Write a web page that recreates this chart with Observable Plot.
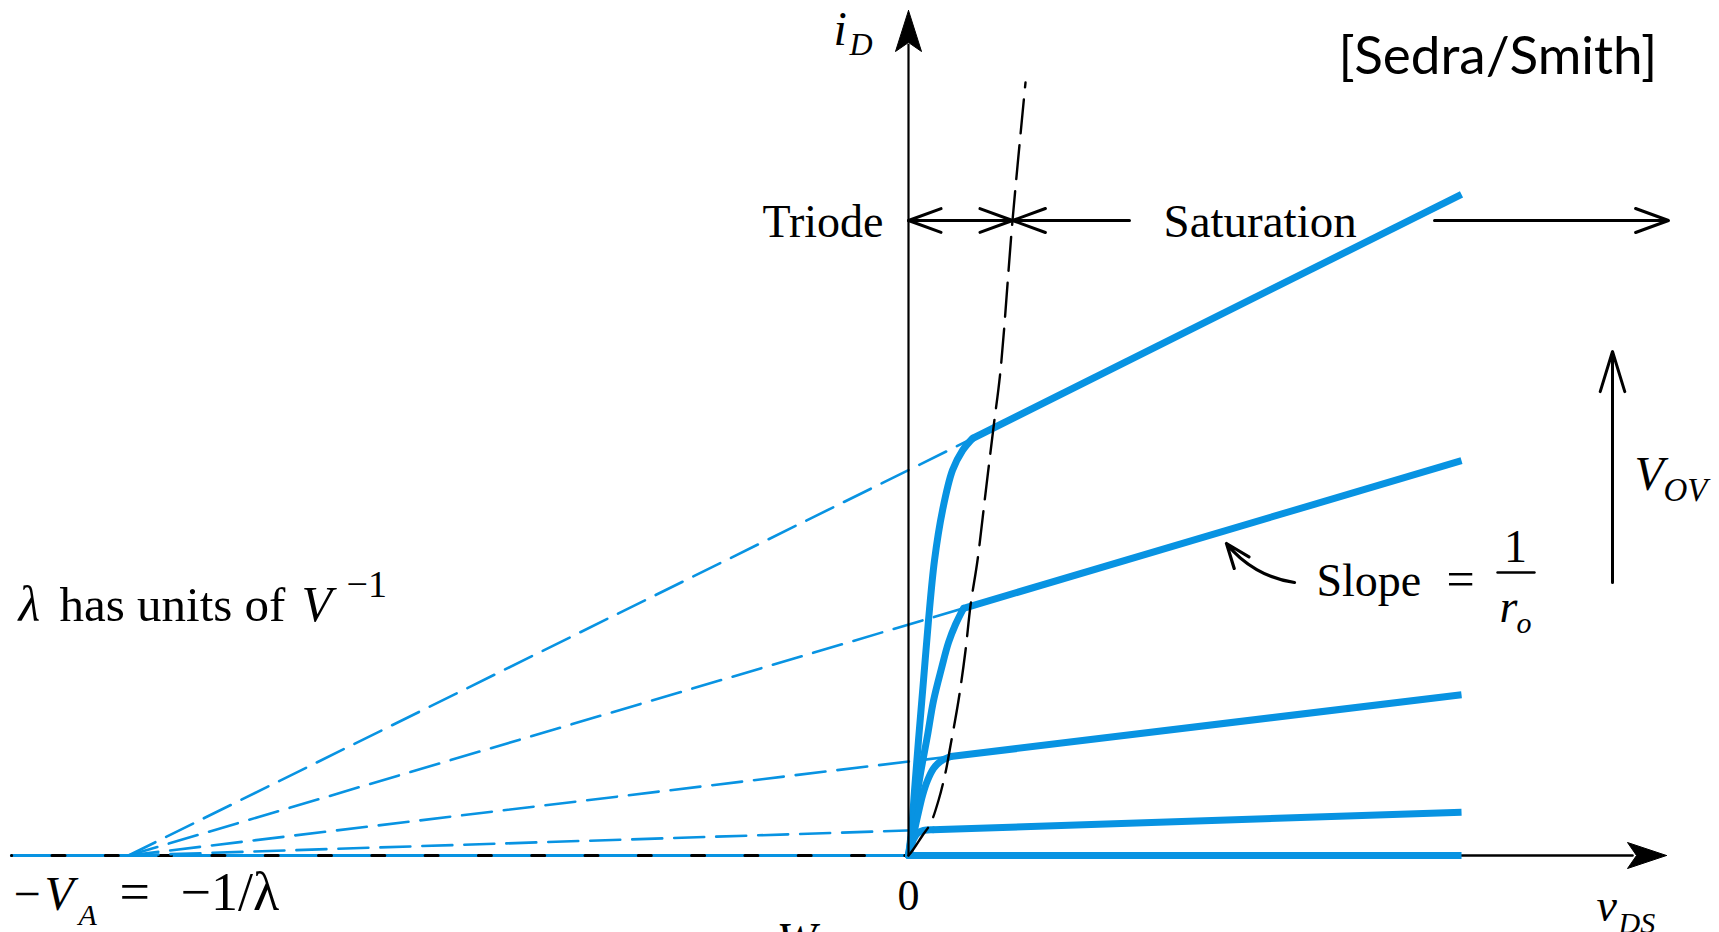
<!DOCTYPE html>
<html><head><meta charset="utf-8">
<script src="https://cdn.jsdelivr.net/npm/d3@7"></script>
<script src="https://cdn.jsdelivr.net/npm/@observablehq/plot@0.6"></script>
<style>html,body{margin:0;padding:0;background:#fff;overflow:hidden}</style>
</head><body><div id="chart"></div>
<script>
// ---------------- data (vDS in V, iD in mA) ----------------
const earlyVoltage = 20;                       // V_A : all saturation lines meet at -V_A
const vdsMax = 14.18;                          // right end of the drawn characteristics
const satEndI = [11.02, 6.58, 2.68, 0.72, 0.0]; // iD at vdsMax for each VOV step
const kneeV = [1.64, 1.41, 1.08, 0.62, 0.0];   // start of saturation (edge of triode)
const kneeI = [6.95, 4.12, 1.65, 0.43, 0.0];
const triodeV = [
  [0, 0.077, 0.154, 0.256, 0.385, 0.513, 0.667, 0.872, 1.128, 1.385, 1.64],
  [0, 0.077, 0.179, 0.308, 0.487, 0.641, 0.846, 1.026, 1.205, 1.41],
  [0, 0.077, 0.154, 0.256, 0.359, 0.487, 0.641, 0.821, 1.08],
  [0, 0.051, 0.128, 0.231, 0.385, 0.62]
];
const triodeI = [
  [0, 0.42, 1.08, 1.92, 2.92, 3.92, 4.92, 5.75, 6.42, 6.75, 6.95],
  [0, 0.33, 0.83, 1.37, 2.0, 2.58, 3.12, 3.55, 3.85, 4.12],
  [0, 0.17, 0.42, 0.72, 1.0, 1.25, 1.45, 1.57, 1.65],
  [0, 0.13, 0.27, 0.37, 0.42, 0.43]
];
// boundary vDS = VOV (black dashed locus)
const edgeV = [0, 0.103, 0.359, 0.564, 0.769, 0.949, 1.077, 1.282, 1.462, 1.59, 1.769, 1.974, 2.179, 2.359, 2.667, 3.0];
const edgeI = [0, 0.083, 0.333, 0.533, 0.917, 1.383, 1.833, 2.583, 3.417, 4.167, 4.917, 6.033, 7.133, 8.083, 10.583, 12.883];

// ---------------- layout helpers (pixel -> data, annotations only) ----------------
const W = 1719, H = 932, ox = 908, oy = 855, kx = 39, ky = 60;
const X = p => (p - ox) / kx;
const Y = p => (oy - p) / ky;
const blue = "#0893e2";
const serif = "Liberation Serif";

// tables built from the arrays
const triodeRows = triodeV.flatMap((vs, k) => vs.map((v, j) => ({v, i: triodeI[k][j], k})));
const satRows = satEndI.flatMap((ie, k) => [{v: kneeV[k], i: kneeI[k], k}, {v: vdsMax, i: ie, k}]);
const extRows = kneeV.slice(0, 4).flatMap((kv, k) => [{v: -earlyVoltage, i: 0, k}, {v: kv, i: kneeI[k], k}]);
const edgeRows = edgeV.map((v, j) => ({v, i: edgeI[j]}));

const xLeft = X(11), xTip = X(1666), yTip = Y(10);
const poly = (pts) => pts.map(([a, b]) => ({v: a, i: b}));
const yHead = poly([[0, yTip], [X(895), Y(51)], [0, Y(42)], [X(921), Y(51)], [0, yTip]]);
const xHead = poly([[xTip, 0], [X(1627), Y(842)], [X(1636), 0], [X(1627), Y(868)], [xTip, 0]]);

const arrowY = Y(220);
const arrows = [
  {x1: X(1012), y1: arrowY, x2: 0, y2: arrowY},
  {x1: 0, y1: arrowY, x2: X(1012), y2: arrowY},
  {x1: X(1129), y1: arrowY, x2: X(1012), y2: arrowY},
  {x1: X(1434), y1: arrowY, x2: X(1668), y2: arrowY}
];

const T = (text, x, y, o = {}) => Plot.text([text], {
  x: X(x), y: Y(y), text: d => d, lineAnchor: "bottom", textAnchor: "start",
  fontFamily: serif, fontSize: 46, fill: "black", ...o
});

const chart = Plot.plot({
  width: W, height: H, margin: 0,
  x: {domain: [X(0), X(W)], axis: null},
  y: {domain: [Y(H), Y(0)], axis: null},
  style: {background: "white"},
  marks: [
    // x axis (right part), under the blue curves
    Plot.line([{v: 0, i: 0}, {v: X(1632), i: 0}], {x: "v", y: "i", stroke: "black", strokeWidth: 2.5}),
    Plot.line(xHead, {x: "v", y: "i", fill: "black", stroke: "black", strokeWidth: 1}),
    // left of origin: thin blue line with black dashes
    Plot.line([{v: xLeft, i: 0}, {v: 0, i: 0}], {x: "v", y: "i", stroke: blue, strokeWidth: 3}),
    Plot.line([{v: xLeft, i: 0}, {v: 0, i: 0}], {x: "v", y: "i", stroke: "black", strokeWidth: 3, strokeDasharray: "13,40.3", strokeDashoffset: 12.8}),
    // dashed extrapolations to -V_A
    Plot.line(extRows, {x: "v", y: "i", z: "k", stroke: blue, strokeWidth: 2.6, strokeDasharray: "30,12"}),
    // characteristics
    Plot.line(triodeRows, {x: "v", y: "i", z: "k", stroke: blue, strokeWidth: 7, curve: "catmull-rom", strokeLinecap: "round"}),
    Plot.line(satRows, {x: "v", y: "i", z: "k", stroke: blue, strokeWidth: 7, strokeLinecap: "butt"}),
    // y axis
    Plot.line([{v: 0, i: 0}, {v: 0, i: Y(44)}], {x: "v", y: "i", stroke: "black", strokeWidth: 2.2}),
    Plot.line(yHead, {x: "v", y: "i", fill: "black", stroke: "black", strokeWidth: 1}),
    // vDS = VOV boundary
    Plot.line(edgeRows, {x: "v", y: "i", stroke: "black", strokeWidth: 2.4, strokeDasharray: "34,12", curve: "catmull-rom"}),
    // region arrows
    Plot.arrow(arrows, {x1: "x1", y1: "y1", x2: "x2", y2: "y2", stroke: "black", strokeWidth: 3, headLength: 17.5, headAngle: 40}),
    // V_OV arrow
    Plot.arrow([{x1: X(1612), y1: Y(582), x2: X(1612), y2: Y(351)}], {x1: "x1", y1: "y1", x2: "x2", y2: "y2", stroke: "black", strokeWidth: 3, headLength: 21, headAngle: 34}),
    // slope arrow
    Plot.arrow([{x1: X(1294), y1: Y(582), x2: X(1226), y2: Y(543)}], {x1: "x1", y1: "y1", x2: "x2", y2: "y2", stroke: "black", strokeWidth: 3.2, headLength: 17, headAngle: 42, bend: 22}),
    // fraction bar
    Plot.line([{v: X(1497), i: Y(572)}, {v: X(1534), i: Y(572)}], {x: "v", y: "i", stroke: "black", strokeWidth: 2.4}),
    // texts
    T("i", 833, 44, {fontStyle: "italic", fontSize: 48}),
    T("D", 849, 54, {fontStyle: "italic", fontSize: 32}),
    T("Triode", 883, 236, {textAnchor: "end"}),
    T("Saturation", 1163, 236, {fontSize: 47}),
    T("[Sedra/Smith]", 1338, 73, {fontFamily: "Lato", fontSize: 53}),
    T("λ", 18, 620, {fontStyle: "italic", fontSize: 50}),
    T("has units of", 59, 620, {fontSize: 49}),
    T("V", 301, 620, {fontStyle: "italic", fontSize: 50}),
    T("−1", 346, 596, {fontSize: 38}),
    T("Slope", 1316, 595),
    T("=", 1460, 595, {textAnchor: "middle", fontSize: 50}),
    T("1", 1515, 561, {textAnchor: "middle"}),
    T("r", 1499, 621, {fontStyle: "italic"}),
    T("o", 1516, 632, {fontStyle: "italic", fontSize: 30}),
    T("V", 1634, 489, {fontStyle: "italic", fontSize: 48}),
    T("OV", 1663, 500, {fontStyle: "italic", fontSize: 33}),
    T("0", 908, 909, {textAnchor: "middle", fontSize: 44}),
    T("−", 13, 909, {fontSize: 48}),
    T("V", 44, 909, {fontStyle: "italic", fontSize: 48}),
    T("A", 78, 924, {fontStyle: "italic", fontSize: 30}),
    T("=", 119, 909, {fontSize: 54}),
    T("−1/λ", 180, 909, {fontSize: 54}),
    T("v", 1596, 920, {fontStyle: "italic", fontSize: 46}),
    T("DS", 1618, 932, {fontStyle: "italic", fontSize: 30}),
    T("W", 776, 955, {fontStyle: "italic", fontSize: 48})
  ]
});
document.getElementById("chart").appendChild(chart);
</script>
</body></html>
